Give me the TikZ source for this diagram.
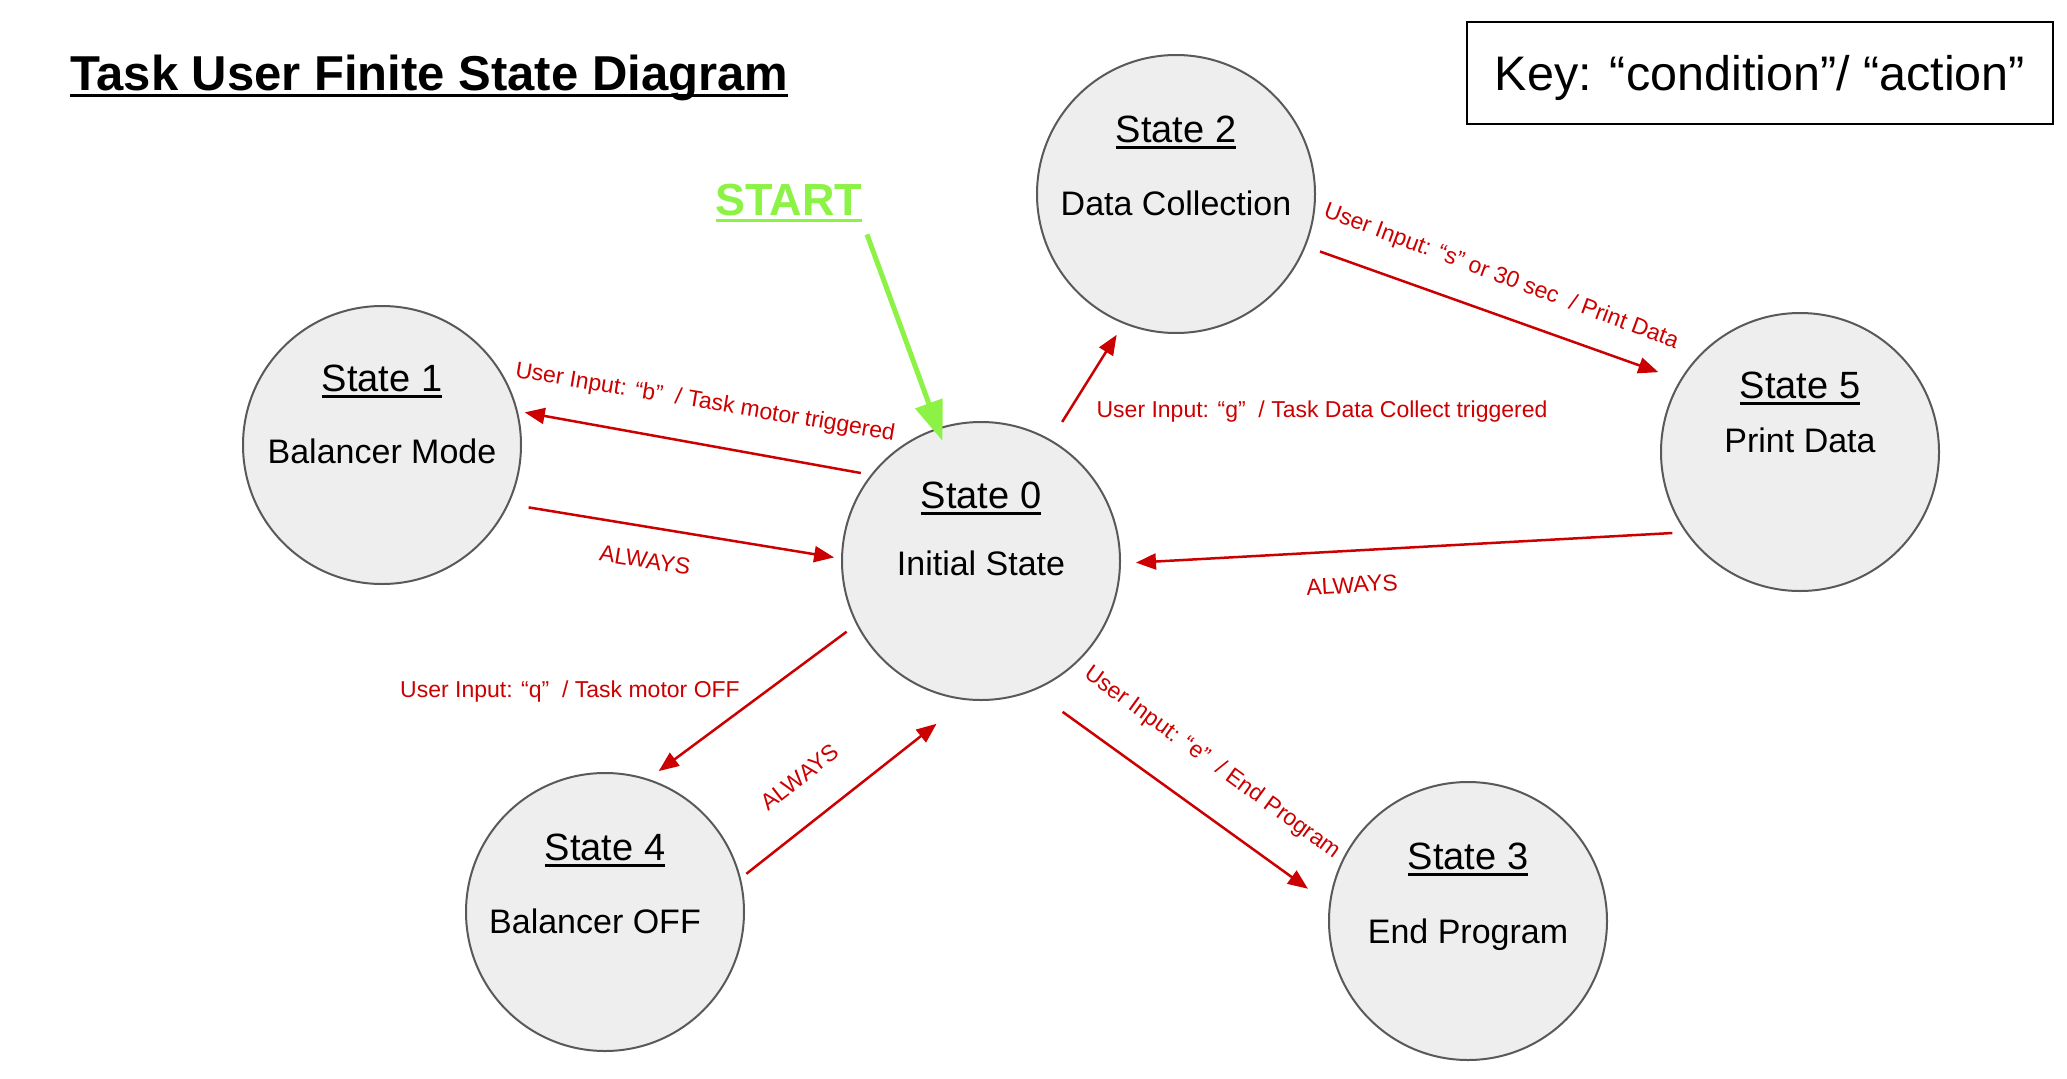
\documentclass[tikz,border=0pt]{standalone}
\usepackage{fontspec}
\setmainfont{Liberation Sans}
\usepackage{tikz}
\usetikzlibrary{positioning, arrows.meta}
\definecolor{stategray}{HTML}{595959}
\definecolor{statefill}{HTML}{EEEEEE}
\definecolor{arrowred}{HTML}{CC0000}
\definecolor{startgreen}{HTML}{8CF246}
\newsavebox{\ulbox}
\newcommand{\undertext}[1]{\sbox{\ulbox}{#1}\rlap{\rule[-7pt]{\wd\ulbox}{3pt}}\usebox{\ulbox}}
\tikzstyle{state} = [circle, minimum size=278pt, inner sep=0pt, draw=stategray, fill=statefill, line width=2pt]
\tikzstyle{statetitle} = [anchor=base, inner sep=0pt, font=\fontsize{38}{44}\selectfont]
\tikzstyle{statesub} = [anchor=base, inner sep=0pt, font=\fontsize{34}{40}\selectfont]
\tikzstyle{arrow} = [draw=arrowred, line width=2.5pt, -{Triangle[length=20pt,width=16pt]}]
\tikzstyle{edgelabel} = [text=arrowred, inner sep=0pt, font=\fontsize{23}{27}\selectfont]

\begin{document}
\begin{tikzpicture}[x=1pt, y=-1pt]
    \fill[white] (0,0) rectangle (2067,1079);
    \node[anchor=base west, inner sep=0pt, font=\bfseries\fontsize{49}{56}\selectfont] (title) at (70,90) {\undertext{Task User Finite State Diagram}};
    \node[draw, line width=2.5pt, minimum width=586pt, minimum height=102pt, text depth=0pt, font=\fontsize{48.5}{56}\selectfont] (key) at (1760,73) {Key: “condition”/ “action”};
    \node[anchor=base, inner sep=0pt, text=startgreen, font=\bfseries\fontsize{45}{52}\selectfont] (start) at (789,215) {\undertext{START}};

    \node[state] (s0) at (981,561) {};
    \node[state] (s1) at (382,445) {};
    \node[state] (s2) at (1176,194) {};
    \node[state] (s5) at (1800,452) {};
    \node[state] (s4) at (605,912) {};
    \node[state] (s3) at (1468,921) {};

    \node[statetitle] (t0) at ([yshift=53pt]s0.center) {\undertext{State 0}};
    \node[statesub] (d0) at ([yshift=-14pt]s0.center) {Initial State};
    \node[statetitle] (t1) at ([yshift=54pt]s1.center) {\undertext{State 1}};
    \node[statesub] (d1) at ([yshift=-18pt]s1.center) {Balancer Mode};
    \node[statetitle] (t2) at ([yshift=52pt]s2.center) {\undertext{State 2}};
    \node[statesub] (d2) at ([yshift=-21pt]s2.center) {Data Collection};
    \node[statetitle] (t5) at ([yshift=54pt]s5.center) {\undertext{State 5}};
    \node[statesub] (d5) at (s5.center) {Print Data};
    \node[statetitle] (t4) at ([yshift=52pt]s4.center) {\undertext{State 4}};
    \node[statesub] (d4) at ([xshift=-10pt, yshift=-21pt]s4.center) {Balancer OFF};
    \node[statetitle] (t3) at ([yshift=52pt]s3.center) {\undertext{State 3}};
    \node[statesub] (d3) at ([yshift=-22pt]s3.center) {End Program};

    \draw[arrow, shorten <=10pt, shorten >=7pt] (s0.142) -- (s1.14);
    \draw[arrow, shorten <=20pt, shorten >=7pt] (s1.-25) -- (s0.179);
    \draw[arrow, shorten <=21pt, shorten >=13pt] (s0.60) -- (s2.248);
    \draw[arrow, shorten <=15pt, shorten >=23pt] (s2.-22) -- (s5.149);
    \draw[arrow, shorten <=13pt, shorten >=15pt] (s5.215) -- (s0.-1);
    \draw[arrow, shorten <=12pt, shorten >=13pt] (s0.207) -- (s4.72);
    \draw[arrow, shorten <=7pt, shorten >=38pt] (s4.14) -- (s0.264);
    \draw[arrow, shorten <=36pt, shorten >=26pt] (s0.-68) -- (s3.173);
    \draw[line width=5pt, draw=startgreen, -{Triangle[length=40pt,width=28pt]}, shorten <=13pt, shorten >=-14pt] (start.south east) -- (s0.108);

    \node[edgelabel, rotate=-9.5] (lb) at (705,403) {User Input: “b”\ \ / Task motor triggered};
    \node[edgelabel, rotate=-9] (la1) at (645,560) {ALWAYS};
    \node[edgelabel] (lg) at (1322,412) {User Input: “g”\ \ / Task Data Collect triggered};
    \node[edgelabel, rotate=-20.5] (ls) at (1501,277) {User Input: “s” or 30 sec\ \ / Print Data};
    \node[edgelabel, rotate=3.5] (la5) at (1352,585) {ALWAYS};
    \node[edgelabel] (lq) at (570,692) {User Input: “q”\ \ / Task motor OFF};
    \node[edgelabel, rotate=38] (la4) at (800,777) {ALWAYS};
    \node[edgelabel, rotate=-36] (le) at (1212,763) {User Input: “e”\ \ / End Program};
\end{tikzpicture}
\end{document}
